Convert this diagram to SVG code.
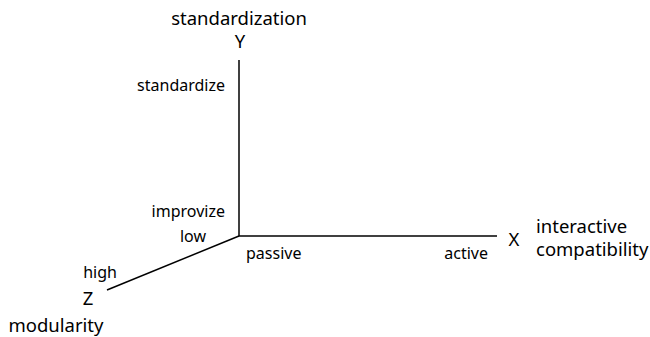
<svg xmlns="http://www.w3.org/2000/svg" width="650" height="337" viewBox="0 0 650 337">
  <style>
    text { font-family: "Noto Sans", "Open Sans", sans-serif; fill: #000; }
    .axis-label { font-size: 18.5px; }
    .tick { font-size: 16px; }
    .axis { stroke: #000; stroke-width: 1.5; fill: none; }
  </style>
  <rect width="650" height="337" fill="#fff"/>
  <g id="connectors">
    <line class="axis" x1="239" y1="60" x2="239" y2="236"/>
    <line class="axis" x1="239" y1="236" x2="497" y2="236"/>
    <line class="axis" x1="239" y1="236" x2="107" y2="290"/>
  </g>
  <g id="axis-y">
    <text class="axis-label" x="239" y="25" text-anchor="middle">standardization</text>
    <text class="axis-label" x="240" y="48" text-anchor="middle">Y</text>
    <text class="tick" x="225" y="91" text-anchor="end">standardize</text>
    <text class="tick" x="225" y="217" text-anchor="end">improvize</text>
  </g>
  <g id="axis-x">
    <text class="tick" x="246" y="259">passive</text>
    <text class="tick" x="488" y="259" text-anchor="end">active</text>
    <text class="axis-label" x="514" y="246" text-anchor="middle">X</text>
    <text class="axis-label" x="536" y="233">interactive</text>
    <text class="axis-label" x="536" y="256">compatibility</text>
  </g>
  <g id="axis-z">
    <text class="tick" x="193" y="242" text-anchor="middle">low</text>
    <text class="tick" x="100" y="278" text-anchor="middle">high</text>
    <text class="axis-label" x="88" y="305" text-anchor="middle">Z</text>
    <text class="axis-label" x="56" y="332" text-anchor="middle">modularity</text>
  </g>
</svg>
